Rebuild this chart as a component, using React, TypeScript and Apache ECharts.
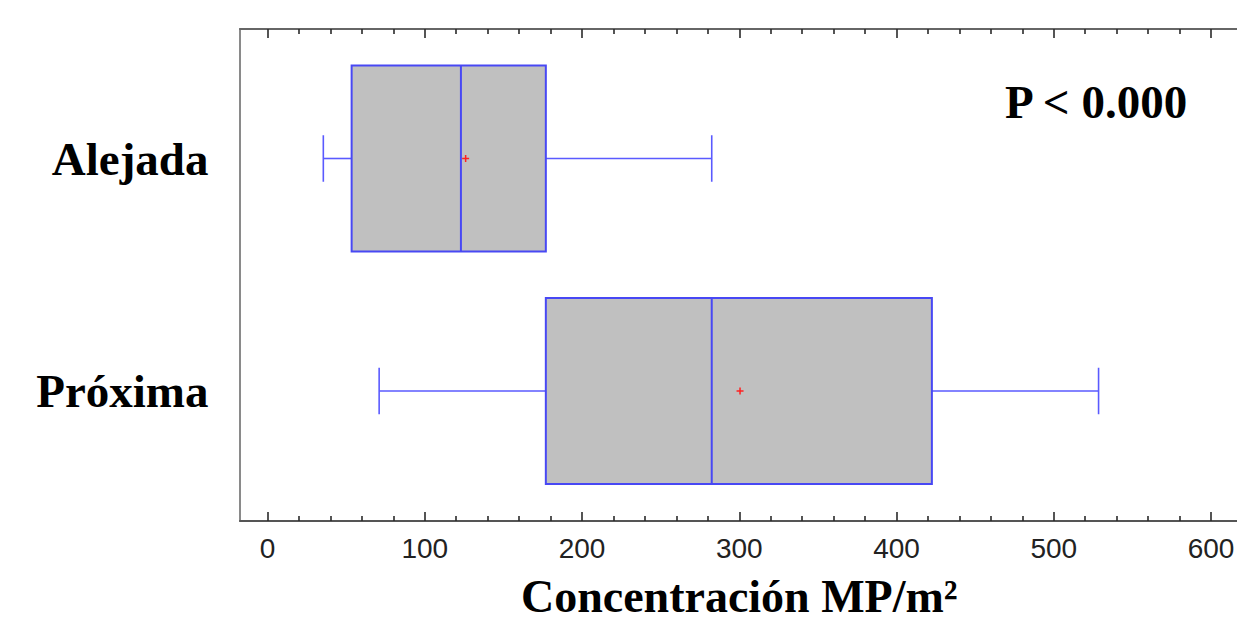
import React, { useEffect, useRef } from "react";
import * as echarts from "echarts";

const categories = ["Alejada", "Próxima"];
const whiskerLow = [35.5, 71];
const quartile1 = [53.5, 177];
const medians = [123, 282.5];
const quartile3 = [177, 422.5];
const whiskerHigh = [282.5, 528.5];
const means = [126, 300.5];
const pLabel = "P < 0.000";
const xTitle = "Concentración MP/m²";

const SERIF = "'Liberation Serif', 'Times New Roman', serif";
const SANS = "'Liberation Sans', Arial, sans-serif";
const BLUE = "#4848f4";

export default function App() {
  const ref = useRef<HTMLDivElement>(null);
  useEffect(() => {
    const chart = echarts.init(ref.current!, null, { renderer: "svg" });
    const data = categories.map((_, i) => [
      i,
      whiskerLow[i],
      quartile1[i],
      medians[i],
      quartile3[i],
      whiskerHigh[i],
      means[i],
    ]);
    const frameAxis = (position: string, color: string) => ({
      gridIndex: 2,
      type: "value",
      position,
      min: 0,
      max: 1,
      axisLine: { show: true, onZero: false, lineStyle: { color, width: 2 } },
      axisTick: { show: false },
      axisLabel: { show: false },
      splitLine: { show: false },
    });
    const tickStyle = { color: "#2a2a2a", width: 1.6 };
    chart.setOption({
      animation: false,
      grid: [
        { left: 267.5, right: 26, top: 42.25, bottom: 114.75, outerBoundsMode: "none", containLabel: false },
        { left: 267.5, right: 26, top: 29, bottom: 101, outerBoundsMode: "none", containLabel: false },
        { left: 240, right: -15, top: 29, bottom: 101, outerBoundsMode: "none", containLabel: false },
      ],
      xAxis: [
        { gridIndex: 0, type: "value", min: 0, max: 600, show: false },
        {
          gridIndex: 1,
          type: "value",
          position: "bottom",
          min: 0,
          max: 600,
          interval: 100,
          axisLine: { show: false },
          axisTick: { show: true, inside: true, length: 9, lineStyle: tickStyle },
          minorTick: { show: true, splitNumber: 5, length: 5, lineStyle: tickStyle },
          splitLine: { show: false },
          axisLabel: {
            show: true,
            fontFamily: SANS,
            fontSize: 28,
            color: "#222",
            margin: 13,
          },
          name: xTitle,
          nameLocation: "middle",
          nameGap: 52,
          nameTextStyle: {
            fontFamily: SERIF,
            fontWeight: "bold",
            fontSize: 46,
            color: "#000",
          },
        },
        {
          gridIndex: 1,
          type: "value",
          position: "top",
          min: 0,
          max: 600,
          interval: 100,
          axisLine: { show: false },
          axisTick: { show: true, inside: true, length: 9, lineStyle: tickStyle },
          minorTick: { show: true, splitNumber: 5, length: 5, lineStyle: tickStyle },
          splitLine: { show: false },
          axisLabel: { show: false },
        },
        frameAxis("bottom", "#555"),
        frameAxis("top", "#666"),
      ],
      yAxis: [
        {
          gridIndex: 0,
          type: "category",
          data: categories,
          inverse: true,
          axisLine: { show: false },
          axisTick: { show: false },
          axisLabel: {
            fontFamily: SERIF,
            fontWeight: "bold",
            fontSize: 47,
            color: "#000",
            margin: 59,
            padding: [22, 0, 0, 0],
          },
        },
        { gridIndex: 1, type: "value", show: false, min: 0, max: 1 },
        frameAxis("left", "#8a8a8a"),
      ],
      graphic: [
        {
          type: "text",
          left: 1005,
          top: 78,
          style: {
            text: pLabel,
            fontFamily: SERIF,
            fontWeight: "bold",
            fontSize: 47,
            fill: "#000",
          },
        },
      ],
      series: [
        {
          type: "custom",
          xAxisIndex: 0,
          yAxisIndex: 0,
          encode: { x: [1, 2, 3, 4, 5, 6], y: 0 },
          data,
          renderItem: (params: any, api: any) => {
            const cat = api.value(0);
            const band = api.size([0, 1])[1];
            const boxH = band * 0.8;
            const capH = band * 0.2;
            const p = (v: number) => api.coord([v, cat]);
            const [xLo, yc] = p(api.value(1));
            const [x1] = p(api.value(2));
            const [xm] = p(api.value(3));
            const [x3] = p(api.value(4));
            const [xHi] = p(api.value(5));
            const [xMean] = p(api.value(6));
            const lineStyle = { stroke: BLUE, lineWidth: 2 };
            const whiskStyle = { stroke: "#5a5aff", lineWidth: 1.6 };
            const mk = 3.5;
            return {
              type: "group",
              children: [
                { type: "line", shape: { x1: xLo, y1: yc, x2: x1, y2: yc }, style: whiskStyle },
                { type: "line", shape: { x1: x3, y1: yc, x2: xHi, y2: yc }, style: whiskStyle },
                {
                  type: "line",
                  shape: { x1: xLo, y1: yc - capH / 2, x2: xLo, y2: yc + capH / 2 },
                  style: whiskStyle,
                },
                {
                  type: "line",
                  shape: { x1: xHi, y1: yc - capH / 2, x2: xHi, y2: yc + capH / 2 },
                  style: whiskStyle,
                },
                {
                  type: "rect",
                  shape: { x: x1, y: yc - boxH / 2, width: x3 - x1, height: boxH },
                  style: { fill: "#c0c0c0", stroke: BLUE, lineWidth: 2 },
                },
                {
                  type: "line",
                  shape: { x1: xm, y1: yc - boxH / 2, x2: xm, y2: yc + boxH / 2 },
                  style: lineStyle,
                },
                {
                  type: "line",
                  shape: { x1: xMean - mk, y1: yc, x2: xMean + mk, y2: yc },
                  style: { stroke: "#ff2020", lineWidth: 1.5 },
                },
                {
                  type: "line",
                  shape: { x1: xMean, y1: yc - mk, x2: xMean, y2: yc + mk },
                  style: { stroke: "#ff2020", lineWidth: 1.5 },
                },
              ],
            };
          },
        },
      ],
    });
    return () => chart.dispose();
  }, []);
  return (
    <div
      ref={ref}
      style={{ position: "absolute", left: 0, top: 0, width: 1237, height: 622 }}
    />
  );
}
